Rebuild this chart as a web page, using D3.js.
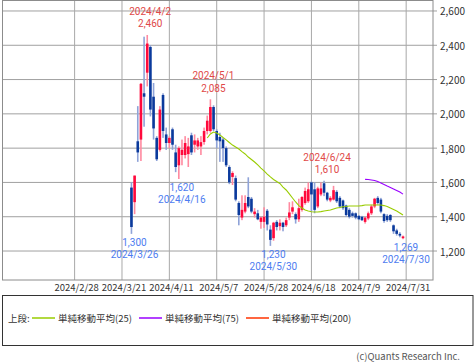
<!DOCTYPE html>
<meta charset="utf-8">
<script src="https://d3js.org/d3.v7.min.js"></script>
<style>
  body { margin: 0; background: #fff; }
  text { font-family: "Noto Sans CJK JP", "Noto Sans", sans-serif; }
  text.ann { font-family: Roboto, sans-serif; font-size: 10px; }
</style>
<svg id="chart" width="475" height="362"></svg>

<script>

    // ---- data ----
    var dates = ["3/26","3/27","3/28","3/29","4/1","4/2","4/3","4/4","4/5","4/8",
      "4/9","4/10","4/11","4/12","4/15","4/16","4/17","4/18","4/19","4/22",
      "4/23","4/24","4/25","4/26","4/30","5/1","5/2","5/7","5/8","5/9",
      "5/10","5/13","5/14","5/15","5/16","5/17","5/20","5/21","5/22","5/23",
      "5/24","5/27","5/28","5/29","5/30","5/31","6/3","6/4","6/5","6/6",
      "6/7","6/10","6/11","6/12","6/13","6/14","6/17","6/18","6/19","6/20",
      "6/21","6/24","6/25","6/26","6/27","6/28","7/1","7/2","7/3","7/4",
      "7/5","7/8","7/9","7/10","7/11","7/12","7/16","7/17","7/18","7/19",
      "7/22","7/23","7/24","7/25","7/26","7/29","7/30"]

    var open = [1570,1485,1840,1850,2120,2240,2390,2100,1860,1790,
      2110,1880,1830,1910,1775,1700,1760,1760,1765,1875,
      1820,1810,1810,1836,1900,1900,2040,1900,1865,1850,
      1800,1690,1632,1625,1480,1395,1430,1515,1505,1415,
      1420,1370,1370,1435,1325,1275,1370,1345,1365,1350,
      1395,1430,1415,1385,1440,1480,1490,1600,1560,1460,
      1530,1595,1540,1495,1500,1545,1510,1495,1465,1440,
      1420,1420,1405,1400,1370,1390,1420,1460,1510,1500,
      1415,1405,1410,1350,1320,1300,1275]

    var high = [1600,1640,2045,2180,2450,2460,2400,2180,1870,2045,
      2120,1920,1870,1920,1820,1810,1850,1870,1860,1890,
      1880,1860,1870,1920,1990,2085,2050,1910,1890,1860,
      1810,1700,1665,1640,1490,1525,1525,1630,1515,1450,
      1440,1400,1455,1445,1350,1370,1380,1385,1370,1395,
      1485,1490,1425,1505,1520,1570,1600,1605,1600,1575,
      1600,1610,1545,1520,1580,1555,1520,1500,1470,1450,
      1430,1425,1410,1405,1400,1430,1470,1510,1520,1510,
      1420,1415,1415,1355,1330,1310,1290]

    var low = [1300,1415,1720,1725,1925,2160,1985,1850,1725,1780,
      1860,1790,1800,1790,1660,1620,1700,1740,1690,1760,
      1775,1790,1760,1820,1880,1890,1900,1800,1720,1720,
      1690,1590,1585,1490,1350,1380,1420,1450,1420,1395,
      1380,1330,1335,1320,1230,1260,1320,1320,1315,1340,
      1380,1415,1360,1370,1430,1470,1480,1430,1420,1450,
      1520,1520,1490,1485,1495,1480,1450,1440,1400,1390,
      1395,1385,1380,1375,1360,1380,1410,1450,1470,1420,
      1365,1370,1370,1300,1290,1280,1269]

    var close = [1340,1640,1775,2175,2100,2410,2025,1915,1735,2025,
      1900,1830,1860,1820,1690,1800,1790,1830,1810,1775,
      1845,1845,1835,1900,1960,2040,1910,1845,1840,1800,
      1700,1600,1655,1500,1410,1440,1480,1460,1430,1430,
      1385,1395,1400,1355,1265,1365,1340,1365,1340,1380,
      1425,1455,1385,1450,1515,1550,1560,1530,1440,1565,
      1565,1540,1500,1510,1555,1490,1460,1450,1410,1400,
      1405,1395,1385,1380,1395,1420,1460,1505,1480,1430,
      1375,1380,1380,1315,1300,1290,1285]

    // moving averages as drawn (25 starts 4/30, 75 starts 7/11)
    var ma25Start = "4/30"
    var ma25 = [1859,1883,1894,1888,1877,1862,1848,1833,1818,1807,
      1795,1780,1766,1748,1734,1719,1702,1684,1667,1649,
      1632,1617,1605,1594,1573,1556,1533,1509,1486,1465,
      1451,1439,1433,1429,1428,1428,1430,1433,1436,1439,
      1445,1451,1454,1458,1460,1463,1463,1463,1463,1465,
      1468,1468,1468,1468,1468,1468,1465,1460,1451,1442,
      1433,1422,1410]
    var ma75Start = "7/11"
    var ma75 = [1618,1617,1614,1611,1605,1597,1588,1579,1571,1562,1553,1544,1532]

    // annotated highs and lows
    var highDates = ["4/2","5/1","6/24"]
    var highValues = [2460,2085,1610]
    var lowDates = ["3/26","4/16","5/30","7/30"]
    var lowValues = [1300,1620,1230,1269]

    // axes
    var yTicks = [1200,1400,1600,1800,2000,2200,2400,2600]
    var xTickDates = ["2/28","3/21","4/11","5/7","5/28","6/18","7/9","7/31"]

    var legendNames = ["単純移動平均(25)","単純移動平均(75)","単純移動平均(200)"]
    var legendColors = ["#99cc00","#9900ff","#ff3300"]

    // ---- trading calendar (TSE days) ----
    var holidays = ["2024/2/12","2024/2/23","2024/3/20","2024/4/29","2024/5/3","2024/5/6","2024/7/15","2024/8/12"]
    var fmt = d3.timeFormat("%Y/%-m/%-d")
    var calendar = d3.timeDay.range(new Date(2024,0,24), new Date(2024,7,20))
      .filter(function(d){ return d.getDay() != 0 && d.getDay() != 6 })
      .map(fmt)
      .filter(function(s){ return holidays.indexOf(s) < 0 })
    var dayIndex = {}
    calendar.forEach(function(s,i){ dayIndex[s] = i })
    function idx(md){ return dayIndex["2024/" + md] }

    var candles = dates.map(function(d,i){
      return {date: d, o: open[i], h: high[i], l: low[i], c: close[i]}
    })

    // ---- svg & scales ----
    var svg = d3.select("svg")

    var x = d3.scaleLinear()
      .domain([0, 136.5])
      .range([2, 433])

    var y = d3.scaleLinear()
      .domain([1031, 2664])
      .range([280, 0])

    var grid = svg.append("g")

    // horizontal grid + right ticks
    grid.selectAll("hline")
      .data(yTicks)
      .enter()
      .append("line")
        .attr("x1", 2)
        .attr("x2", 437)
        .attr("y1", function(d){ return y(d) })
        .attr("y2", function(d){ return y(d) })
        .attr("stroke", "#a0a0a0")

    // vertical grid
    grid.selectAll("vline")
      .data(xTickDates)
      .enter()
      .append("line")
        .attr("x1", function(d){ return x(idx(d)) })
        .attr("x2", function(d){ return x(idx(d)) })
        .attr("y1", 0)
        .attr("y2", 280)
        .attr("stroke", "#a8a8a8")

    // frame
    svg.append("rect")
      .attr("x", 2.5)
      .attr("y", 0.5)
      .attr("width", 430.5)
      .attr("height", 279.5)
      .attr("fill", "none")
      .attr("stroke", "#8c8c8c")

    // y labels
    svg.selectAll("ylab")
      .data(yTicks)
      .enter()
      .append("text")
        .attr("x", 440)
        .attr("y", function(d){ return y(d) })
        .attr("dominant-baseline", "central")
        .style("font-size", "10px")
        .style("fill", "#333")
        .text(function(d){ return d3.format(",")(d) })

    // x labels
    svg.selectAll("xlab")
      .data(xTickDates)
      .enter()
      .append("text")
        .attr("x", function(d){ return x(idx(d)) + 2 })
        .attr("y", 291)
        .attr("text-anchor", "middle")
        .style("font-size", "9.5px")
        .style("fill", "#333")
        .text(function(d){ return "2024/" + d })

    // ---- candles ----
    var cg = svg.append("g")
    cg.selectAll("wick")
      .data(candles)
      .enter()
      .append("rect")
        .attr("x", function(d){ return x(idx(d.date)) - 0.8 })
        .attr("width", 1.6)
        .attr("y", function(d){ return y(d.h) })
        .attr("height", function(d){ return Math.max(1, y(d.l) - y(d.h)) })
        .attr("fill", function(d){ return d.c >= d.o ? "#ff8aa0" : "#8fa3d8" })

    cg.selectAll("body")
      .data(candles)
      .enter()
      .append("rect")
        .attr("x", function(d){ return x(idx(d.date)) - 1.3 })
        .attr("width", 2.6)
        .attr("y", function(d){ return y(Math.max(d.o, d.c)) })
        .attr("height", function(d){ return Math.max(1.2, Math.abs(y(d.o) - y(d.c))) })
        .attr("fill", function(d){ return d.c >= d.o ? "#ff0a3c" : "#0b3a9c" })

    // ---- moving averages ----
    function maPoints(start, values){
      var s = dates.indexOf(start)
      return values.map(function(v,i){ return {date: dates[s+i], v: v} })
    }
    var line = d3.line()
      .x(function(d){ return x(idx(d.date)) })
      .y(function(d){ return y(d.v) })

    svg.append("path")
      .datum(maPoints(ma25Start, ma25))
      .attr("d", line)
      .attr("fill", "none")
      .attr("stroke", legendColors[0])
      .attr("stroke-width", 1.1)

    svg.append("path")
      .datum(maPoints(ma75Start, ma75))
      .attr("d", line)
      .attr("fill", "none")
      .attr("stroke", legendColors[1])
      .attr("stroke-width", 1.1)

    // ---- high / low annotations ----
    var ann = svg.append("g")
    highDates.forEach(function(d,i){
      var cx = x(idx(d)) + 3, cy = y(highValues[i])
      ann.append("text").attr("class", "ann").attr("x", cx).attr("y", cy - 20)
        .attr("text-anchor", "middle").style("fill", "#e04848").text("2024/" + d)
      ann.append("text").attr("class", "ann").attr("x", cx).attr("y", cy - 7.5)
        .attr("text-anchor", "middle").style("fill", "#e04848").text(d3.format(",")(highValues[i]))
    })
    lowDates.forEach(function(d,i){
      var cx = x(idx(d)) + 3, cy = y(lowValues[i])
      ann.append("text").attr("class", "ann").attr("x", cx).attr("y", cy + 12)
        .attr("text-anchor", "middle").style("fill", "#4d7cf0").text(d3.format(",")(lowValues[i]))
      ann.append("text").attr("class", "ann").attr("x", cx).attr("y", cy + 24)
        .attr("text-anchor", "middle").style("fill", "#4d7cf0").text("2024/" + d)
    })

    // ---- legend ----
    svg.append("rect")
      .attr("x", 2.5)
      .attr("y", 295.5)
      .attr("width", 470.5)
      .attr("height", 50)
      .attr("fill", "none")
      .attr("stroke", "#333")

    var lg = svg.append("g").style("font-size", "9.5px")
    lg.append("text").attr("x", 8).attr("y", 318).attr("dominant-baseline", "central")
      .style("fill", "#333").text("上段:")

    var legendX = [32, 139, 246]
    legendNames.forEach(function(n,i){
      lg.append("line")
        .attr("x1", legendX[i]).attr("x2", legendX[i] + 23)
        .attr("y1", 318).attr("y2", 318)
        .attr("stroke", legendColors[i]).attr("stroke-width", 1.5)
      lg.append("text").attr("x", legendX[i] + 26).attr("y", 318)
        .attr("dominant-baseline", "central")
        .style("fill", "#333").text(n)
    })

    // credit
    svg.append("text")
      .attr("x", 460)
      .attr("y", 360)
      .attr("text-anchor", "end")
      .style("font-size", "9.5px")
      .style("fill", "#555")
      .text("(c)Quants Research Inc.")

</script>
